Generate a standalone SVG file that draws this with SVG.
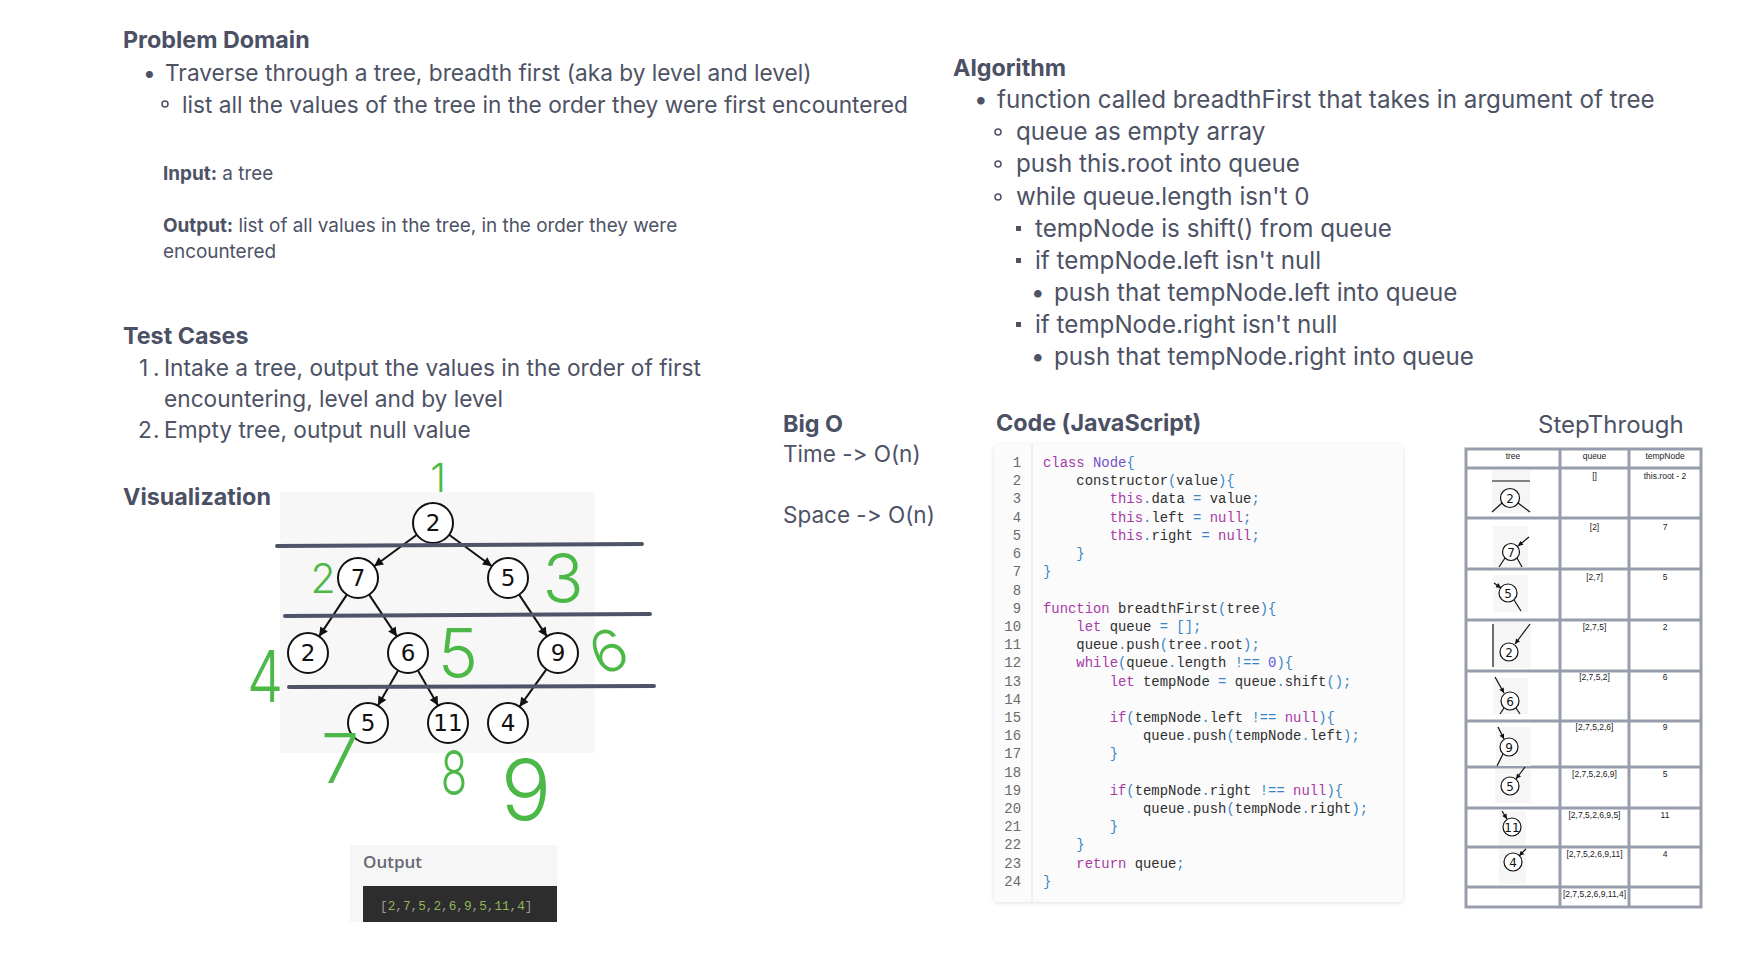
<svg xmlns="http://www.w3.org/2000/svg" width="1752" height="977" viewBox="0 0 1752 977">
  <defs>
    <style>
      text { font-feature-settings: "calt" 0, "liga" 0; font-variant-ligatures: none; }
      .h { font-family: Inter, "Noto Sans", "Liberation Sans", sans-serif; font-weight: 700; font-size: 23.3px; fill: #4b5064; }
      .b { font-family: Inter, "Noto Sans", "Liberation Sans", sans-serif; font-size: 22.7px; fill: #4d5265; }
      .ba { font-family: Inter, "Noto Sans", "Liberation Sans", sans-serif; font-size: 24.2px; fill: #4d5265; }
      .s { font-family: Inter, "Noto Sans", "Liberation Sans", sans-serif; font-size: 18.9px; fill: #4d5265; }
      .s .bold { font-weight: 700; }
      .bo { font-family: Inter, "Noto Sans", "Liberation Sans", sans-serif; font-size: 22.5px; fill: #4d5265; }
      .code { font-family: "Liberation Mono", "DejaVu Sans Mono", monospace; font-size: 13.9px; fill: #2f2f2f; }
      .ln { font-family: "Liberation Mono", "DejaVu Sans Mono", monospace; font-size: 13.9px; fill: #6a6a6a; text-anchor: end; }
      .kw { fill: #a83aa6; }
      .cl { fill: #7650c8; }
      .pn { fill: #3a86c4; }
      .nm { fill: #5a5ad8; }
      .node circle { fill: #ffffff; stroke: #111111; stroke-width: 2; }
      .node text { font-family: "DejaVu Sans", sans-serif; font-size: 23px; fill: #111111; text-anchor: middle; }
      .edge { stroke: #111111; stroke-width: 2; fill: none; marker-end: url(#arrow); }
      .level { stroke: #4f5468; stroke-width: 4; stroke-linecap: round; }
      .ink { font-family: Inter, "Liberation Sans", sans-serif; font-weight: 300; fill: #4cb848; text-anchor: middle; }
      .grid { stroke: #979dac; stroke-width: 3; fill: none; }
      .cell { font-family: "Liberation Sans", sans-serif; font-size: 8.5px; fill: #222222; text-anchor: middle; }
      .mini circle { fill: #ffffff; stroke: #111111; stroke-width: 1.2; }
      .mini text { font-family: "DejaVu Sans", sans-serif; font-size: 12px; fill: #111111; text-anchor: middle; }
      .mini line { stroke: #111111; stroke-width: 1.2; }
      .mini .in { marker-end: url(#arrowSmall); }
      .thumb { fill: #f6f6f6; }
    </style>
    <marker id="arrow" viewBox="0 0 10 10" refX="10" refY="5" markerWidth="12" markerHeight="9" markerUnits="userSpaceOnUse" orient="auto">
      <path d="M0,0 L10,5 L0,10 z" fill="#111111"/>
    </marker>
    <marker id="arrowSmall" viewBox="0 0 10 10" refX="10" refY="5" markerWidth="6" markerHeight="5" markerUnits="userSpaceOnUse" orient="auto">
      <path d="M0,0 L10,5 L0,10 z" fill="#111111"/>
    </marker>
    <filter id="shadow" x="-5%" y="-5%" width="110%" height="110%">
      <feDropShadow dx="0" dy="1" stdDeviation="2" flood-color="#000000" flood-opacity="0.12"/>
    </filter>
  </defs>

  <rect width="1752" height="977" fill="#ffffff"/>

  <!-- Problem domain -->
  <g id="problem-domain">
    <text class="h" x="123" y="48">Problem Domain</text>
    <text class="b" x="143" y="81">•</text>
    <text class="b" x="165" y="81">Traverse through a tree, breadth first (aka by level and level)</text>
    <circle cx="165" cy="104" r="3" fill="none" stroke="#4d5265" stroke-width="1.5"/>
    <text class="b" x="182" y="113">list all the values of the tree in the order they were first encountered</text>
    <text class="s" x="163" y="180"><tspan class="bold">Input:</tspan> a tree</text>
    <text class="s" x="163" y="232"><tspan class="bold">Output:</tspan> list of all values in the tree, in the order they were</text>
    <text class="s" x="163" y="258">encountered</text>
  </g>

  <!-- Test cases -->
  <g id="test-cases">
    <text class="h" x="123" y="344">Test Cases</text>
    <text class="b" x="139" y="376">1</text>
    <text class="b" x="153" y="376">.</text>
    <text class="b" x="164" y="376">Intake a tree, output the values in the order of first</text>
    <text class="b" x="164" y="407">encountering, level and by level</text>
    <text class="b" x="138" y="438">2</text>
    <text class="b" x="153" y="438">.</text>
    <text class="b" x="164" y="438">Empty tree, output null value</text>
  </g>

  <!-- Algorithm -->
  <g id="algorithm">
    <text class="h" x="953" y="76" font-size="24.5">Algorithm</text>
    <text class="ba" x="974" y="108">•</text>
    <text class="ba" x="997" y="108">function called breadthFirst that takes in argument of tree</text>
    <circle cx="998" cy="132" r="3" fill="none" stroke="#4d5265" stroke-width="1.5"/>
    <text class="ba" x="1016" y="140">queue as empty array</text>
    <circle cx="998" cy="164" r="3" fill="none" stroke="#4d5265" stroke-width="1.5"/>
    <text class="ba" x="1016" y="172">push this.root into queue</text>
    <circle cx="998" cy="197" r="3" fill="none" stroke="#4d5265" stroke-width="1.5"/>
    <text class="ba" x="1016" y="205">while queue.length isn't 0</text>
    <rect x="1016" y="226" width="5" height="5" fill="#4d5265"/>
    <text class="ba" x="1035" y="237">tempNode is shift() from queue</text>
    <rect x="1016" y="258" width="5" height="5" fill="#4d5265"/>
    <text class="ba" x="1035" y="269">if tempNode.left isn't null</text>
    <text class="ba" x="1031" y="301">•</text>
    <text class="ba" x="1054" y="301">push that tempNode.left into queue</text>
    <rect x="1016" y="322" width="5" height="5" fill="#4d5265"/>
    <text class="ba" x="1035" y="333">if tempNode.right isn't null</text>
    <text class="ba" x="1031" y="365">•</text>
    <text class="ba" x="1054" y="365">push that tempNode.right into queue</text>
  </g>

  <!-- Complexity -->
  <g id="big-o">
    <text class="h" x="783" y="432">Big O</text>
    <text class="bo" x="783" y="462">Time -&gt; O(n)</text>
    <text class="bo" x="783" y="523">Space -&gt; O(n)</text>
  </g>

  <!-- Visualization -->
  <g id="visualization">
    <text class="h" x="123" y="505">Visualization</text>
    <rect x="280" y="492" width="315" height="261" fill="#f7f7f7"/>
  </g>

  <g id="connectors">
    <line class="edge" x1="416.9" y1="534.8" x2="374.1" y2="566.2"/>
    <line class="edge" x1="449.1" y1="534.8" x2="491.9" y2="566.2"/>
    <line class="edge" x1="346.9" y1="594.6" x2="319.1" y2="636.4"/>
    <line class="edge" x1="369.1" y1="594.6" x2="396.9" y2="636.4"/>
    <line class="edge" x1="519.1" y1="594.6" x2="546.9" y2="636.4"/>
    <line class="edge" x1="398.1" y1="670.4" x2="377.9" y2="705.6"/>
    <line class="edge" x1="417.9" y1="670.4" x2="438.1" y2="705.6"/>
    <line class="edge" x1="546.4" y1="669.3" x2="519.6" y2="706.7"/>
  </g>

  <g id="node-root" class="node"><circle cx="433" cy="523" r="20"/><text x="433" y="531">2</text></g>
  <g id="node-7" class="node"><circle cx="358" cy="578" r="20"/><text x="358" y="586">7</text></g>
  <g id="node-5a" class="node"><circle cx="508" cy="578" r="20"/><text x="508" y="586">5</text></g>
  <g id="node-2" class="node"><circle cx="308" cy="653" r="20"/><text x="308" y="661">2</text></g>
  <g id="node-6" class="node"><circle cx="408" cy="653" r="20"/><text x="408" y="661">6</text></g>
  <g id="node-9" class="node"><circle cx="558" cy="653" r="20"/><text x="558" y="661">9</text></g>
  <g id="node-5b" class="node"><circle cx="368" cy="723" r="20"/><text x="368" y="731">5</text></g>
  <g id="node-11" class="node"><circle cx="448" cy="723" r="20"/><text x="448" y="731">11</text></g>
  <g id="node-4" class="node"><circle cx="508" cy="723" r="20"/><text x="508" y="731">4</text></g>

  <!-- level separators drawn over the tree -->
  <g id="levels">
    <line class="level" x1="277" y1="546" x2="642" y2="544"/>
    <line class="level" x1="285" y1="616" x2="650" y2="614"/>
    <line class="level" x1="289" y1="687" x2="654" y2="686"/>
  </g>

  <!-- visit order, hand-written -->
  <g id="visit-order">
    <text class="ink" x="438" y="492" font-size="40">1</text>
    <text class="ink" x="323" y="593" font-size="41">2</text>
    <text class="ink" x="563" y="603" font-size="68">3</text>
    <text class="ink" x="0" y="0" font-size="72" transform="translate(265 702) scale(0.8 1)">4</text>
    <text class="ink" x="458" y="678" font-size="68">5</text>
    <text class="ink" x="608" y="672" font-size="58" transform="rotate(-25 608 650)">6</text>
    <text class="ink" x="340" y="783" font-size="68">7</text>
    <text class="ink" x="0" y="0" font-size="62" transform="translate(454 795) scale(0.7 1)">8</text>
    <text class="ink" x="526" y="820" font-size="84">9</text>
  </g>

  <!-- Output panel -->
  <g id="output">
    <rect x="350" y="845" width="207" height="77" fill="#f6f6f6"/>
    <text x="363" y="868" font-family="'Open Sans', 'Noto Sans', sans-serif" font-size="17" font-weight="600" fill="#666a72">Output</text>
    <rect x="363" y="886" width="194" height="36" fill="#2d2d2d"/>
    <text x="380" y="910" font-family="'Liberation Mono', 'DejaVu Sans Mono', monospace" font-size="12.7" fill="#9a9a9a">[<tspan fill="#8fb858">2</tspan>,<tspan fill="#8fb858">7</tspan>,<tspan fill="#8fb858">5</tspan>,<tspan fill="#8fb858">2</tspan>,<tspan fill="#8fb858">6</tspan>,<tspan fill="#8fb858">9</tspan>,<tspan fill="#8fb858">5</tspan>,<tspan fill="#8fb858">11</tspan>,<tspan fill="#8fb858">4</tspan>]</text>
  </g>

  <!-- Code listing -->
  <g id="code">
    <text class="h" x="996" y="431">Code (JavaScript)</text>
    <rect x="994" y="444" width="409" height="458" rx="4" fill="#fbfbfb" filter="url(#shadow)"/>
    <line x1="1032" y1="444" x2="1032" y2="902" stroke="#e4e4e4" stroke-width="1"/>
    <g class="ln">
      <text x="1021" y="467">1</text><text x="1021" y="485.2">2</text><text x="1021" y="503.4">3</text><text x="1021" y="521.6">4</text>
      <text x="1021" y="539.8">5</text><text x="1021" y="558">6</text><text x="1021" y="576.3">7</text><text x="1021" y="594.5">8</text>
      <text x="1021" y="612.7">9</text><text x="1021" y="630.9">10</text><text x="1021" y="649.1">11</text><text x="1021" y="667.3">12</text>
      <text x="1021" y="685.5">13</text><text x="1021" y="703.7">14</text><text x="1021" y="721.9">15</text><text x="1021" y="740.2">16</text>
      <text x="1021" y="758.4">17</text><text x="1021" y="776.6">18</text><text x="1021" y="794.8">19</text><text x="1021" y="813">20</text>
      <text x="1021" y="831.2">21</text><text x="1021" y="849.4">22</text><text x="1021" y="867.6">23</text><text x="1021" y="885.8">24</text>
    </g>
    <g class="code">
      <text x="1043" y="467"><tspan class="kw">class</tspan> <tspan class="cl">Node</tspan><tspan class="pn">{</tspan></text>
      <text x="1076.3" y="485.2">constructor<tspan class="pn">(</tspan>value<tspan class="pn">){</tspan></text>
      <text x="1109.7" y="503.4"><tspan class="kw">this</tspan><tspan class="pn">.</tspan>data <tspan class="pn">=</tspan> value<tspan class="pn">;</tspan></text>
      <text x="1109.7" y="521.6"><tspan class="kw">this</tspan><tspan class="pn">.</tspan>left <tspan class="pn">=</tspan> <tspan class="kw">null</tspan><tspan class="pn">;</tspan></text>
      <text x="1109.7" y="539.8"><tspan class="kw">this</tspan><tspan class="pn">.</tspan>right <tspan class="pn">=</tspan> <tspan class="kw">null</tspan><tspan class="pn">;</tspan></text>
      <text x="1076.3" y="558" class="pn">}</text>
      <text x="1043" y="576.3" class="pn">}</text>
      <text x="1043" y="612.7"><tspan class="kw">function</tspan> breadthFirst<tspan class="pn">(</tspan>tree<tspan class="pn">){</tspan></text>
      <text x="1076.3" y="630.9"><tspan class="kw">let</tspan> queue <tspan class="pn">=</tspan> <tspan class="pn">[];</tspan></text>
      <text x="1076.3" y="649.1">queue<tspan class="pn">.</tspan>push<tspan class="pn">(</tspan>tree<tspan class="pn">.</tspan>root<tspan class="pn">);</tspan></text>
      <text x="1076.3" y="667.3"><tspan class="kw">while</tspan><tspan class="pn">(</tspan>queue<tspan class="pn">.</tspan>length <tspan class="pn">!==</tspan> <tspan class="nm">0</tspan><tspan class="pn">){</tspan></text>
      <text x="1109.7" y="685.5"><tspan class="kw">let</tspan> tempNode <tspan class="pn">=</tspan> queue<tspan class="pn">.</tspan>shift<tspan class="pn">();</tspan></text>
      <text x="1109.7" y="721.9"><tspan class="kw">if</tspan><tspan class="pn">(</tspan>tempNode<tspan class="pn">.</tspan>left <tspan class="pn">!==</tspan> <tspan class="kw">null</tspan><tspan class="pn">){</tspan></text>
      <text x="1143" y="740.2">queue<tspan class="pn">.</tspan>push<tspan class="pn">(</tspan>tempNode<tspan class="pn">.</tspan>left<tspan class="pn">);</tspan></text>
      <text x="1109.7" y="758.4" class="pn">}</text>
      <text x="1109.7" y="794.8"><tspan class="kw">if</tspan><tspan class="pn">(</tspan>tempNode<tspan class="pn">.</tspan>right <tspan class="pn">!==</tspan> <tspan class="kw">null</tspan><tspan class="pn">){</tspan></text>
      <text x="1143" y="813">queue<tspan class="pn">.</tspan>push<tspan class="pn">(</tspan>tempNode<tspan class="pn">.</tspan>right<tspan class="pn">);</tspan></text>
      <text x="1109.7" y="831.2" class="pn">}</text>
      <text x="1076.3" y="849.4" class="pn">}</text>
      <text x="1076.3" y="867.6"><tspan class="kw">return</tspan> queue<tspan class="pn">;</tspan></text>
      <text x="1043" y="885.8" class="pn">}</text>
    </g>
  </g>

  <!-- Step-through table -->
  <g id="step-through">
    <text x="1538" y="433" font-family="Inter, 'Noto Sans', sans-serif" font-size="24" fill="#4d5265">StepThrough</text>
    <rect class="grid" x="1466" y="449" width="235" height="458"/>
    <line class="grid" x1="1560" y1="449" x2="1560" y2="907"/>
    <line class="grid" x1="1629" y1="449" x2="1629" y2="907"/>
    <line class="grid" x1="1466" y1="468" x2="1701" y2="468"/>
    <line class="grid" x1="1466" y1="518" x2="1701" y2="518"/>
    <line class="grid" x1="1466" y1="569" x2="1701" y2="569"/>
    <line class="grid" x1="1466" y1="620" x2="1701" y2="620"/>
    <line class="grid" x1="1466" y1="671" x2="1701" y2="671"/>
    <line class="grid" x1="1466" y1="721" x2="1701" y2="721"/>
    <line class="grid" x1="1466" y1="767" x2="1701" y2="767"/>
    <line class="grid" x1="1466" y1="808" x2="1701" y2="808"/>
    <line class="grid" x1="1466" y1="847" x2="1701" y2="847"/>
    <line class="grid" x1="1466" y1="887" x2="1701" y2="887"/>

    <text class="cell" x="1513" y="459">tree</text>
    <text class="cell" x="1594.5" y="459">queue</text>
    <text class="cell" x="1665" y="459">tempNode</text>

    <text class="cell" x="1594.5" y="479">[]</text><text class="cell" x="1665" y="479">this.root - 2</text>
    <text class="cell" x="1594.5" y="530">[2]</text><text class="cell" x="1665" y="530">7</text>
    <text class="cell" x="1594.5" y="580">[2,7]</text><text class="cell" x="1665" y="580">5</text>
    <text class="cell" x="1594.5" y="630">[2,7,5]</text><text class="cell" x="1665" y="630">2</text>
    <text class="cell" x="1594.5" y="680">[2,7,5,2]</text><text class="cell" x="1665" y="680">6</text>
    <text class="cell" x="1594.5" y="730">[2,7,5,2,6]</text><text class="cell" x="1665" y="730">9</text>
    <text class="cell" x="1594.5" y="777">[2,7,5,2,6,9]</text><text class="cell" x="1665" y="777">5</text>
    <text class="cell" x="1594.5" y="818">[2,7,5,2,6,9,5]</text><text class="cell" x="1665" y="818">11</text>
    <text class="cell" x="1594.5" y="857">[2,7,5,2,6,9,11]</text><text class="cell" x="1665" y="857">4</text>
    <text class="cell" x="1594.5" y="897">[2,7,5,2,6,9,11,4]</text>

    <!-- small tree snapshots -->
    <g class="mini" id="snap-1">
      <rect class="thumb" x="1492" y="470" width="38" height="43"/>
      <line x1="1492" y1="481" x2="1530" y2="481" stroke="#c4daf2"/>
      <line x1="1502" y1="503" x2="1492" y2="512"/><line x1="1518" y1="503" x2="1530" y2="512"/>
      <circle cx="1510" cy="498" r="9.5"/><text x="1510" y="502.5">2</text>
    </g>
    <g class="mini" id="snap-2">
      <rect class="thumb" x="1493" y="526" width="35" height="41"/>
      <line class="in" x1="1529" y1="537" x2="1518" y2="546"/>
      <line x1="1505" y1="558" x2="1499" y2="567"/><line x1="1517" y1="558" x2="1522" y2="567"/>
      <circle cx="1511" cy="552" r="8.5"/><text x="1511" y="556.5" font-size="11">7</text>
    </g>
    <g class="mini" id="snap-3">
      <rect class="thumb" x="1493" y="575" width="35" height="37"/>
      <line class="in" x1="1494" y1="583" x2="1501" y2="588"/>
      <line x1="1514" y1="600" x2="1521" y2="611"/>
      <circle cx="1508" cy="593" r="9"/><text x="1508" y="597.5">5</text>
    </g>
    <g class="mini" id="snap-4">
      <rect class="thumb" x="1493" y="622" width="38" height="46"/>
      <line x1="1493" y1="624" x2="1493" y2="667" stroke="#9fbfe8"/>
      <line class="in" x1="1530" y1="624" x2="1515" y2="644"/>
      <circle cx="1509" cy="652" r="9"/><text x="1509" y="656.5">2</text>
    </g>
    <g class="mini" id="snap-5">
      <rect class="thumb" x="1493" y="678" width="35" height="36"/>
      <line class="in" x1="1495" y1="677" x2="1504" y2="693"/>
      <line x1="1504" y1="708" x2="1500" y2="714"/><line x1="1516" y1="708" x2="1520" y2="714"/>
      <circle cx="1510" cy="701" r="9"/><text x="1510" y="705.5">6</text>
    </g>
    <g class="mini" id="snap-6">
      <rect class="thumb" x="1496" y="727" width="35" height="39"/>
      <line class="in" x1="1498" y1="727" x2="1504" y2="739"/>
      <line x1="1503" y1="754" x2="1497" y2="766"/>
      <circle cx="1509" cy="747" r="9"/><text x="1509" y="751.5">9</text>
    </g>
    <g class="mini" id="snap-7">
      <rect class="thumb" x="1495" y="769" width="36" height="34"/>
      <line class="in" x1="1525" y1="767" x2="1516" y2="779"/>
      <circle cx="1510" cy="786" r="9"/><text x="1510" y="790.5">5</text>
    </g>
    <g class="mini" id="snap-8">
      <rect class="thumb" x="1499" y="811" width="27" height="34"/>
      <line class="in" x1="1502" y1="811" x2="1507" y2="819"/>
      <circle cx="1512" cy="827" r="9"/><text x="1512" y="831.5" font-size="11.5">11</text>
    </g>
    <g class="mini" id="snap-9">
      <rect class="thumb" x="1499" y="849" width="27" height="35"/>
      <line class="in" x1="1526" y1="849" x2="1519" y2="856"/>
      <circle cx="1513" cy="862" r="9"/><text x="1513" y="866.5">4</text>
    </g>
  </g>
</svg>
